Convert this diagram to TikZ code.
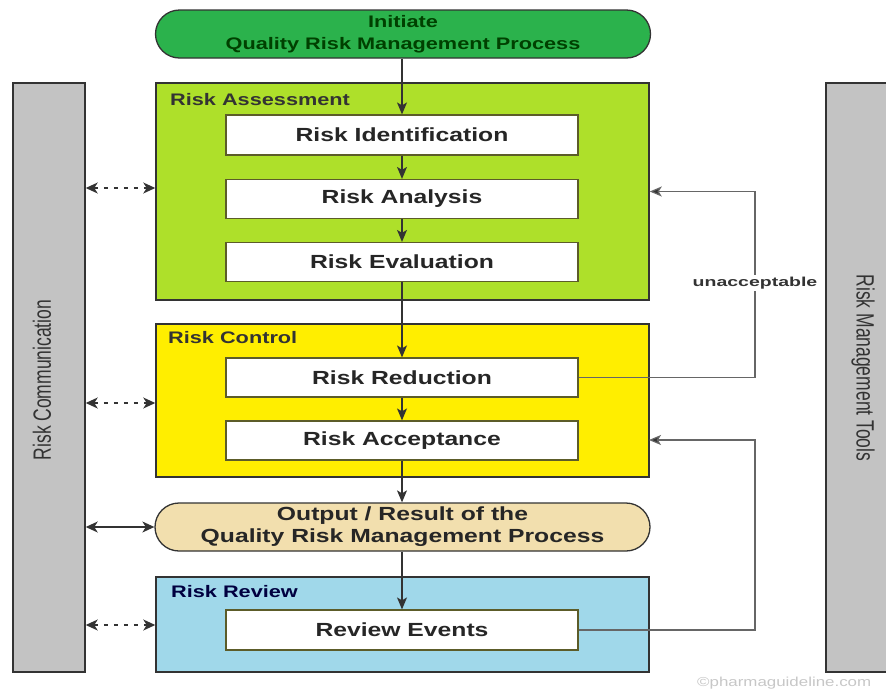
\documentclass[tikz,border=0pt]{standalone}
\usepackage{fontspec}
\setmainfont{Liberation Sans}
\newfontfamily\wfont{Liberation Sans}[FakeStretch=1.3]
\newfontfamily\wwfont{Liberation Sans}[FakeStretch=1.5]
\newfontfamily\cfont{Liberation Sans}[FakeStretch=0.7]
\usetikzlibrary{arrows.meta,calc}
\definecolor{initgreen}{HTML}{2BB24C}
\definecolor{limeg}{HTML}{AEE02A}
\definecolor{yell}{HTML}{FFEE00}
\definecolor{beige}{HTML}{F2DFAE}
\definecolor{lblue}{HTML}{A0D8EA}
\definecolor{barg}{HTML}{C3C3C3}
\definecolor{lnc}{HTML}{333333}
\tikzset{
  x=1pt, y=-1pt,
  groupbox/.style={draw=lnc, line width=1.5pt, inner sep=0pt, minimum width=493pt},
  stepbox/.style={draw=lnc!80!yellow, line width=1.2pt, fill=white, minimum width=352pt, minimum height=39pt, inner sep=0pt, font=\wfont\bfseries\fontsize{19}{22}\selectfont, text=black!85},
  pill/.style={draw=lnc, line width=1.3pt, rounded corners=24pt, minimum width=495pt, minimum height=48pt, inner sep=0pt, align=center},
  grouplabel/.style={anchor=west, inner sep=0pt, font=\wfont\bfseries\fontsize{16.7}{20}\selectfont, text=black!80},
  bar/.style={draw=lnc, line width=1.5pt, fill=barg, inner sep=0pt, minimum width=72pt, minimum height=589pt},
  bartext/.style={font=\cfont\fontsize{25}{28}\selectfont, text=black!80, inner sep=0pt},
  flow/.style={draw=lnc, line width=1.2pt, -{Stealth[length=12pt,width=10pt,inset=3pt]}},
  fb/.style={draw=black!60, line width=1.2pt, -{Stealth[length=12pt,width=10pt,inset=3pt,fill=lnc]}},
  comm/.style={draw=lnc, line width=1.3pt, {Stealth[length=12pt,width=11pt,inset=3.5pt]}-{Stealth[length=12pt,width=11pt,inset=3.5pt]}},
  commd/.style={comm, dash pattern=on 4pt off 6pt}
}
\begin{document}
\begin{tikzpicture}
\clip (0,0) rectangle (886,689);
\fill[white] (0,0) rectangle (886,689);

% side bars
\node[bar] (lbar) at (49,377.5) {};
\node[bar, minimum width=70pt] (rbar) at (861,377.5) {};
\node[bartext, rotate=90] (lbartxt) at (42,380) {Risk Communication};
\node[bartext, rotate=-90] (rbartxt) at (863,368) {Risk Management Tools};

% initiate
\node[pill, fill=initgreen, text=green!25!black, font=\wfont\bfseries\fontsize{16.7}{22}\selectfont] (init) at (403,34) {Initiate\\Quality Risk Management Process};

% risk assessment
\node[groupbox, fill=limeg, minimum height=217pt] (RA) at (402.5,191.5) {};
\node[grouplabel] (RAl) at (170,100) {Risk Assessment};
\node[stepbox, minimum height=40pt] (ident) at (402,135) {Risk Identification};
\node[stepbox] (anal) at (402,199) {Risk Analysis};
\node[stepbox] (eval) at (402,262) {Risk Evaluation};

% risk control
\node[groupbox, fill=yell, minimum height=153pt] (RC) at (402.5,400.5) {};
\node[grouplabel] (RCl) at (168,338) {Risk Control};
\node[stepbox] (red) at (402,377.5) {Risk Reduction};
\node[stepbox] (acc) at (402,440.5) {Risk Acceptance};

% output
\node[pill, fill=beige, text=black!85, font=\wfont\bfseries\fontsize{19}{22}\selectfont] (out) at (402.5,527) {Output / Result of the\\Quality Risk Management Process};

% risk review
\node[groupbox, fill=lblue, minimum height=95pt] (RR) at (402.5,624.5) {};
\node[grouplabel, text=blue!25!black] (RRl) at (171,592) {Risk Review};
\node[stepbox, minimum height=40pt] (rev) at (402,630) {Review Events};

% main flow
\draw[flow] (init.south -| ident.north) -- (ident.north);
\draw[flow] (ident) -- (anal);
\draw[flow] (anal) -- (eval);
\draw[flow] (eval) -- (red);
\draw[flow] (red) -- (acc);
\draw[flow] (acc.south) -- (out.north -| acc.south);
\draw[flow] (out.south -| rev.north) -- (rev.north);

% feedback loops
\coordinate (fbx) at (755,0);
\coordinate (rcin) at (649,440);
\draw[fb] (red.east) -- (red.east -| fbx) -- (fbx |- RA.east) -- (RA.east);
\node[fill=white, inner sep=2pt, font=\wwfont\bfseries\fontsize{13}{15}\selectfont, text=black!80] (unacc) at (755,283) {unacceptable};
\draw[fb] (rev.east) -- (rev.east -| fbx) -- (fbx |- rcin) -- (rcin);

% communication arrows
\draw[commd] (lbar.east |- 0,188) -- (RA.west |- 0,188);
\draw[commd] (lbar.east |- 0,403) -- (RC.west |- 0,403);
\draw[comm] (lbar.east |- out.west) -- (out.west);
\draw[commd] (lbar.east |- 0,625) -- (RR.west |- 0,625);

% watermark
\node[anchor=west, inner sep=0pt, text=black!22, font=\wfont\fontsize{13}{15}\selectfont] (wm) at (697,683) {©pharmaguideline.com};
\end{tikzpicture}
\end{document}
